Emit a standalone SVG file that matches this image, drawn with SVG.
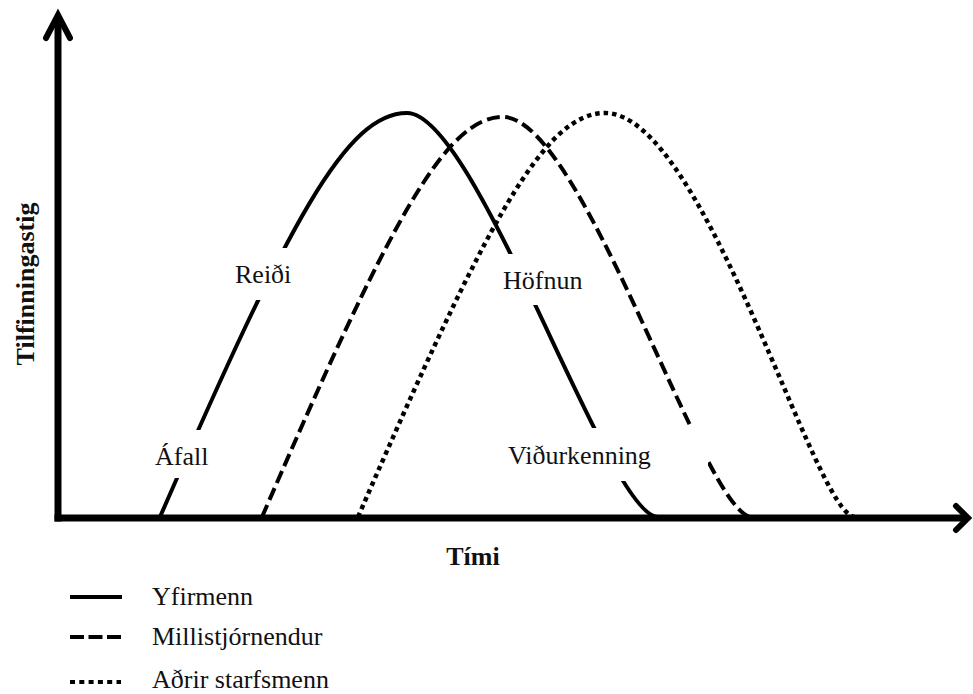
<svg xmlns="http://www.w3.org/2000/svg" width="973" height="694" viewBox="0 0 973 694">
<style>
.ax{stroke:#000;stroke-width:7;fill:none}
.ah{stroke:#000;stroke-width:6;fill:none;stroke-linecap:round;stroke-linejoin:miter}
.c{fill:none;stroke:#000;stroke-width:4}
.dash{stroke-dasharray:13 5.5}
.dot{stroke-dasharray:4.5 4;stroke-width:4.5}
.bg{fill:#fff}
.t{font-size:26px;fill:#111}
.b{font-weight:bold}
</style>
<rect width="973" height="694" fill="#fff"/>
<g id="curves">
<path id="yfirmenn-curve" class="c" d="M160,517 C290,218 347,113 407,113 C477,113 608,517 658,517"/>
<path id="millistjornendur-curve" class="c dash" d="M262,517 C390,222 445,117 503,117 C583,117 705,517 752,517"/>
<path id="adrir-curve" class="c dot" d="M358,517 C488,218 545,113 605,113 C705,113 815,517 855,517"/>
</g>
<g font-family="'Liberation Serif', 'DejaVu Serif', serif">
<g id="label-afall">
<rect class="bg" x="150" y="430" width="63" height="48"/>
<text class="t" x="155" y="465">Áfall</text>
</g>
<g id="label-reidi">
<rect class="bg" x="230" y="248" width="67" height="52"/>
<text class="t" x="235" y="283">Reiði</text>
</g>
<g id="label-hofnun">
<rect class="bg" x="498" y="254" width="92" height="51"/>
<text class="t" x="503" y="289">Höfnun</text>
</g>
<g id="label-vidurkenning">
<rect class="bg" x="500" y="428" width="208" height="53"/>
<text class="t" x="508" y="464">Viðurkenning</text>
</g>
<g id="axes">
<line class="ax" x1="58" y1="521.5" x2="58" y2="16"/>
<polyline class="ah" points="46,38 58,15 70,38"/>
<line class="ax" x1="54.5" y1="518" x2="967" y2="518"/>
<polyline class="ah" points="956,506 968,518 956,530"/>
<text class="t b" transform="translate(34,284) rotate(-90)" text-anchor="middle">Tilfinningastig</text>
<text class="t b" x="473" y="565" text-anchor="middle">Tími</text>
</g>
<g id="legend">
<line class="c" x1="70" y1="597" x2="122" y2="597" stroke-width="5"/>
<text class="t" x="152" y="605">Yfirmenn</text>
<line class="c" x1="70" y1="637" x2="121" y2="637" stroke-width="5" stroke-dasharray="14 4.5"/>
<text class="t" x="152" y="645">Millistjórnendur</text>
<line class="c" x1="70" y1="682" x2="121" y2="682" stroke-width="5" stroke-dasharray="5 4.3"/>
<text class="t" x="152" y="688">Aðrir starfsmenn</text>
</g>
</g>
</svg>
